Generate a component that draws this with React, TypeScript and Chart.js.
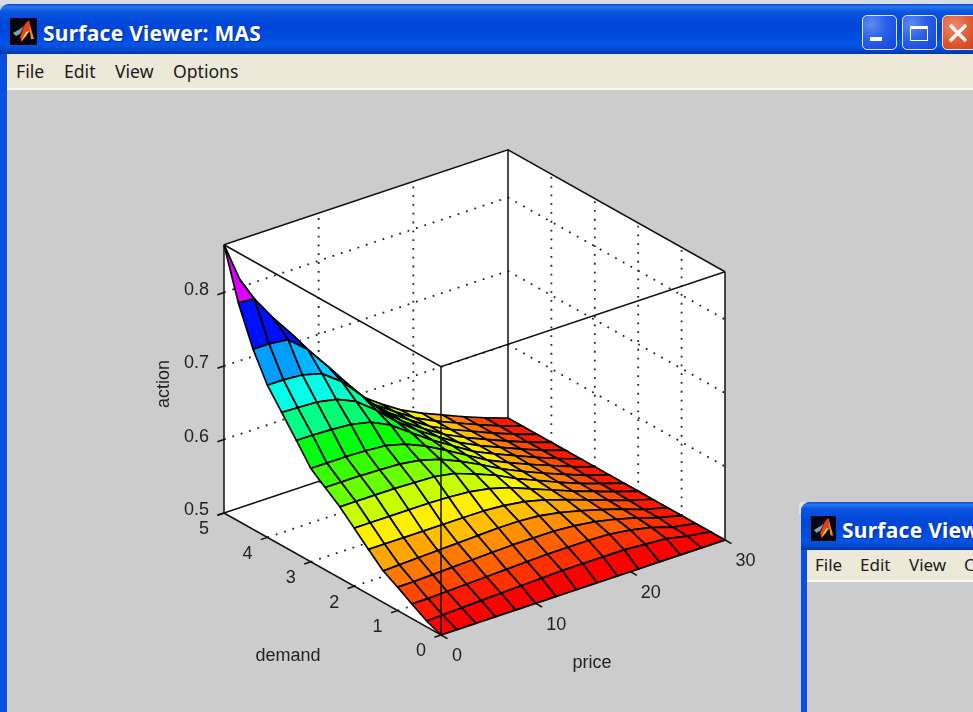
import React, { useEffect, useRef } from "react";
import { Chart, registerables } from "chart.js";

Chart.register(...registerables);

const priceTicks = [0, 10, 20, 30];
const demandTicks = [0, 1, 2, 3, 4, 5];
const actionTicks = [0.5, 0.6, 0.7, 0.8];

const priceGrid = [0, 1.69, 3.7, 5.76, 7.87, 9.98, 12.15, 14.31, 16.48, 18.64, 20.86, 23.08, 25.3, 27.52, 30];
const demandGrid = [0, 0.33, 0.67, 1, 1.33, 1.67, 2, 2.33, 2.67, 3, 3.33, 3.67, 4, 4.33, 4.67, 5];

// action[demand index][price index]
const action0 = [.5, .5, .5, .5, .5, .5, .5, .5, .5, .5, .5, .5, .5, .5, .5];
const action1 = [.508, .509, .51, .511, .512, .513, .514, .515, .515, .515, .515, .513, .511, .505, .5];
const action2 = [.52, .52, .521, .522, .523, .524, .525, .526, .526, .526, .525, .521, .515, .506, .5];
const action3 = [.532, .532, .533, .534, .535, .536, .537, .537, .537, .535, .531, .525, .517, .508, .5];
const action4 = [.543, .544, .545, .546, .547, .548, .549, .549, .547, .542, .535, .527, .518, .508, .5];
const action5 = [.561, .561, .561, .561, .561, .561, .561, .559, .555, .548, .539, .529, .519, .509, .5];
const action6 = [.579, .579, .579, .579, .579, .578, .576, .571, .563, .552, .541, .53, .52, .51, .5];
const action7 = [.597, .597, .597, .597, .596, .595, .59, .58, .569, .555, .543, .531, .52, .51, .5];
const action8 = [.612, .612, .612, .611, .61, .606, .598, .586, .572, .557, .544, .532, .521, .51, .5];
const action9 = [.627, .627, .627, .626, .624, .617, .605, .59, .574, .558, .545, .533, .522, .511, .5];
const action10 = [.654, .654, .653, .651, .645, .632, .612, .593, .576, .559, .546, .534, .522, .511, .5];
const action11 = [.681, .68, .679, .674, .662, .641, .616, .595, .577, .56, .546, .534, .522, .511, .5];
const action12 = [.707, .707, .705, .698, .678, .65, .619, .596, .577, .56, .546, .534, .522, .511, .5];
const action13 = [.745, .745, .742, .72, .688, .655, .621, .597, .578, .56, .546, .534, .522, .511, .5];
const action14 = [.797, .795, .76, .728, .692, .657, .622, .597, .578, .56, .546, .534, .522, .511, .5];
const action15 = [.865, .81, .764, .73, .693, .658, .623, .598, .578, .56, .546, .534, .522, .511, .5];
const actionRows = [action0, action1, action2, action3, action4, action5, action6, action7, action8, action9, action10, action11, action12, action13, action14, action15];

const P_MAX = 30;
const D_MAX = 5;
const Z_MIN = 0.5;
const Z_MAX = 0.865;

function project(p: number, d: number, z: number) {
  return {
    x: 441 + (284 * p) / P_MAX - (217 * d) / D_MAX,
    y: 635 - (95 * p) / P_MAX - (122 * d) / D_MAX - (z - Z_MIN) * 735,
  };
}

function facetColor(z: number) {
  const level = Math.min(63, Math.floor(((z - Z_MIN) / (Z_MAX - Z_MIN)) * 64));
  return `hsl(${(level / 64) * 360}, 100%, 50%)`;
}

function line(data: { x: number; y: number }[], extra: Record<string, unknown> = {}) {
  return {
    type: "scatter" as const,
    data,
    showLine: true,
    pointRadius: 0,
    borderColor: "#111",
    borderWidth: 1.5,
    tension: 0,
    fill: false,
    ...extra,
  };
}

function buildDatasets() {
  const sets: any[] = [];
  const dotted = { borderDash: [1.8, 7], borderColor: "#222", borderWidth: 1.8 };
  const zT = Z_MAX;
  const z0 = Z_MIN;

  // front of the box and ticks (first = drawn on top)
  sets.push(line([project(0, 0, z0), project(0, 0, zT)]));
  sets.push(line([project(0, D_MAX, zT), project(0, 0, zT), project(P_MAX, 0, zT)]));
  sets.push(line([project(0, D_MAX, z0), project(0, D_MAX, zT)]));
  sets.push(line([project(P_MAX, 0, z0), project(P_MAX, 0, zT)]));
  sets.push(line([project(0, D_MAX, z0), project(0, 0, z0), project(P_MAX, 0, z0)]));
  actionTicks.forEach((z) => sets.push(line([project(0, D_MAX, z), project(-0.7, D_MAX, z)])));
  demandTicks.forEach((d) => sets.push(line([project(0, d, z0), project(-0.7, d, z0)])));
  priceTicks.forEach((p) => sets.push(line([project(p, 0, z0), project(p, -0.15, z0)])));

  // surface, nearest facet first
  const facets: { k: number; set: any }[] = [];
  for (let j = 0; j < demandGrid.length - 1; j++) {
    for (let i = 0; i < priceGrid.length - 1; i++) {
      const corners = [
        project(priceGrid[i], demandGrid[j], actionRows[j][i]),
        project(priceGrid[i + 1], demandGrid[j], actionRows[j][i + 1]),
        project(priceGrid[i + 1], demandGrid[j + 1], actionRows[j + 1][i + 1]),
        project(priceGrid[i], demandGrid[j + 1], actionRows[j + 1][i]),
      ];
      facets.push({
        k: i + j,
        set: line([...corners, corners[0]], {
          fill: "shape",
          backgroundColor: facetColor(actionRows[j][i]),
          borderColor: "#000",
          borderWidth: 1.7,
        }),
      });
    }
  }
  facets.sort((a, b) => a.k - b.k).forEach((f) => sets.push(f.set));

  // back edges
  sets.push(line([project(P_MAX, D_MAX, z0), project(P_MAX, D_MAX, zT)]));
  sets.push(line([project(0, D_MAX, zT), project(P_MAX, D_MAX, zT), project(P_MAX, 0, zT)]));
  sets.push(line([project(0, D_MAX, z0), project(P_MAX, D_MAX, z0), project(P_MAX, 0, z0)]));

  // dotted grid on the back walls and floor
  actionTicks.slice(1).forEach((z) => {
    sets.push(line([project(0, D_MAX, z), project(P_MAX, D_MAX, z), project(P_MAX, 0, z)], dotted));
  });
  priceTicks.slice(1, -1).forEach((p) => {
    sets.push(line([project(p, 0, z0), project(p, D_MAX, z0), project(p, D_MAX, zT)], dotted));
  });
  demandTicks.slice(1, -1).forEach((d) => {
    sets.push(line([project(0, d, z0), project(P_MAX, d, z0), project(P_MAX, d, zT)], dotted));
  });

  // white plot box
  const hull = [
    project(0, D_MAX, zT),
    project(P_MAX, D_MAX, zT),
    project(P_MAX, 0, zT),
    project(P_MAX, 0, z0),
    project(0, 0, z0),
    project(0, D_MAX, z0),
  ];
  sets.push(line([...hull, hull[0]], { fill: "shape", backgroundColor: "#fff", borderWidth: 0, borderColor: "#fff" }));
  return sets;
}

const textPlugin = {
  id: "axisText",
  afterDatasetsDraw(chart: any) {
    const { ctx, scales } = chart;
    const at = (pt: { x: number; y: number }) => [scales.x.getPixelForValue(pt.x), scales.y.getPixelForValue(pt.y)];
    ctx.save();
    ctx.fillStyle = "#222";
    ctx.font = '18px "Liberation Sans", Arial, sans-serif';
    ctx.textBaseline = "middle";
    ctx.textAlign = "right";
    actionTicks.forEach((z) => {
      const [x, y] = at(project(0, D_MAX, z));
      ctx.fillText(z.toFixed(1), x - 15, y - 2.5);
    });
    ctx.textAlign = "center";
    demandTicks.forEach((d) => {
      const [x, y] = at(project(0, d, Z_MIN));
      ctx.fillText(String(d), x - 20, y + 16.5);
    });
    priceTicks.forEach((p) => {
      const [x, y] = at(project(p, 0, Z_MIN));
      ctx.fillText(String(p), x + (p === 0 ? 16 : 20.5), y + 21.5);
    });
    ctx.fillText("demand", 288, 656);
    ctx.fillText("price", 592, 663);
    ctx.translate(164, 384);
    ctx.rotate(-Math.PI / 2);
    ctx.fillText("action", 0, 0);
    ctx.restore();
  },
};

const uiFont = '"Noto Sans", Tahoma, sans-serif';

function abs(left: number, top: number, width: number, height: number, extra: React.CSSProperties = {}): React.CSSProperties {
  return { position: "absolute", left, top, width, height, ...extra };
}

const titleBlue =
  "linear-gradient(#0a4ad8 0%, #2a78ee 6%, #0a56e2 14%, #0046d6 40%, #004ae0 66%, #0456e8 80%, #0048cc 92%, #0036a4 100%)";

function Icon({ x, y, s }: { x: number; y: number; s: number }) {
  return (
    <svg style={abs(x, y, s, s)} viewBox="0 0 27 27">
      <rect width="27" height="27" fill="#05050f" />
      <polygon points="3,15 10,11 14,8 10,16 6,18" fill="#7fa3a8" />
      <polygon points="10,19 15,6 19,2 23,22 20,14 17,16 12,24" fill="#e8401a" />
      <polygon points="11,23 16,14 19,13 16,18" fill="#f5e020" />
      <polygon points="19,4 24,21 21,21" fill="#f09020" />
    </svg>
  );
}

export default function App() {
  const ref = useRef<HTMLCanvasElement>(null);

  useEffect(() => {
    const chart = new Chart(ref.current as HTMLCanvasElement, {
      type: "scatter",
      data: { datasets: buildDatasets() },
      options: {
        animation: false,
        responsive: false,
        devicePixelRatio: 1,
        layout: { padding: 0 },
        events: [],
        scales: {
          x: { type: "linear", min: 0, max: 973, display: false },
          y: { type: "linear", min: 0, max: 712, reverse: true, display: false },
        },
        plugins: { legend: { display: false }, tooltip: { enabled: false }, title: { display: false } },
      },
      plugins: [textPlugin],
    } as any);
    return () => chart.destroy();
  }, []);

  const menu = (text: string, left: number, top: number, size: number) => (
    <div style={{ position: "absolute", left, top, fontFamily: uiFont, fontSize: size, lineHeight: "24px", color: "#1a1a1a", whiteSpace: "nowrap" }}>{text}</div>
  );
  const title = (text: string, left: number, top: number, size: number) => (
    <div style={{ position: "absolute", left, top, fontFamily: uiFont, fontWeight: 700, fontSize: size, letterSpacing: 0.25, lineHeight: "28px", color: "#fff", whiteSpace: "nowrap", textShadow: "1px 1px 1px #0a2a90" }}>{text}</div>
  );
  const btn: React.CSSProperties = {
    border: "1.5px solid #dfe8fb",
    borderRadius: 5,
    boxSizing: "border-box",
    background: "radial-gradient(circle at 25% 25%, #5f8cf0 0%, #2a5fe8 45%, #0f45d8 100%)",
  };

  return (
    <div style={{ position: "fixed", left: 0, top: 0, width: 973, height: 712, overflow: "hidden", background: "#cccccc", filter: "blur(0.4px)" }}>
      <div style={abs(0, 0, 973, 5, { background: "#d8dce6" })} />
      <div style={abs(0, 4, 973, 708, { background: "#0a50e0", borderTopLeftRadius: 9 })} />
      <div style={abs(7, 54, 966, 658, { background: "#cccccc" })} />
      <div style={abs(0, 4, 973, 50, { background: titleBlue, borderTopLeftRadius: 9 })} />
      <Icon x={10} y={18} s={27} />
      {title("Surface Viewer: MAS", 43, 19, 21)}
      <div style={abs(862, 15, 35, 35, btn)} />
      <div style={abs(870, 37, 12, 4, { background: "#fff" })} />
      <div style={abs(902, 15, 35, 35, btn)} />
      <div style={abs(910, 26, 18, 15, { border: "1.5px solid #fff", borderTopWidth: 3.5, boxSizing: "border-box" })} />
      <div style={abs(942, 15, 40, 35, { ...btn, background: "radial-gradient(circle at 30% 30%, #ec8a6c 0%, #dc5428 55%, #c83a10 100%)" })} />
      <svg style={abs(947, 22, 22, 22)} viewBox="0 0 22 22">
        <path d="M3 3 L19 19 M19 3 L3 19" stroke="#fff" strokeWidth="3.2" />
      </svg>
      <div style={abs(7, 54, 966, 34, { background: "#ece9d8" })} />
      <div style={abs(7, 88, 966, 2, { background: "#f8f8f4" })} />
      {menu("File", 16, 59, 17.6)}
      {menu("Edit", 64, 59, 17.6)}
      {menu("View", 115, 59, 17.6)}
      {menu("Options", 173, 59, 17.6)}

      <canvas ref={ref} width={973} height={712} style={abs(0, 0, 973, 712, { display: "block" })} />

      <div style={abs(799, 502, 174, 12, { background: "#e6e3d3", borderTopLeftRadius: 3 })} />
      <div style={abs(801, 502, 172, 210, { background: "#0a50e0", borderTopLeftRadius: 9 })} />
      <div style={abs(801, 502, 172, 48, { background: titleBlue, borderTopLeftRadius: 9 })} />
      <Icon x={811} y={516} s={25} />
      <div style={abs(807, 550, 166, 32, { background: "#ece9d8" })} />
      <div style={abs(807, 582, 166, 130, { background: "#cccccc" })} />
      <div style={abs(807, 580, 166, 2, { background: "#f8f8f4" })} />
      <div style={abs(801, 502, 172, 210, { overflow: "hidden" })}>
        {title("Surface Viewer: MAS", 41, 14, 21)}
        {menu("File", 14, 51, 17)}
        {menu("Edit", 59, 51, 17)}
        {menu("View", 108, 51, 17)}
        {menu("Options", 163, 51, 17)}
      </div>
    </div>
  );
}
